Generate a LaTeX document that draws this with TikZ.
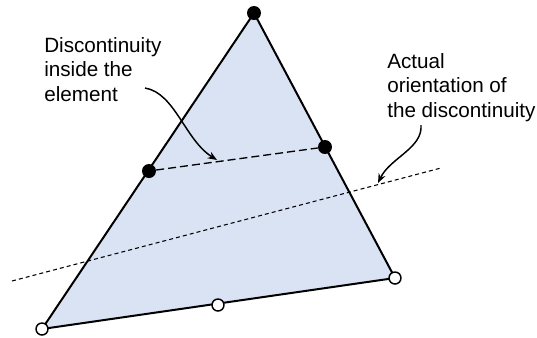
\documentclass[tikz,border=0pt]{standalone}
\usepackage{fontspec}
\setmainfont{Liberation Sans}
\usetikzlibrary{arrows.meta}

\definecolor{elemfill}{RGB}{218,227,243}

\begin{document}
\begin{tikzpicture}[
    x=0.75pt, y=-0.75pt,
    >={Stealth[length=7pt,width=5.5pt]},
    every node/.style={font=\fontsize{15.5}{18.4}\selectfont},
    fullnode/.style={circle, fill=black, inner sep=0pt, minimum size=10.5pt},
    opennode/.style={circle, draw=black, fill=white, line width=1.1pt,
        inner sep=0pt, minimum size=9pt},
    note/.style={align=left, anchor=north west, inner sep=0pt},
    pointer/.style={->, line width=1.1pt}
]

% ============================================================
% Rahmen
% ============================================================

\useasboundingbox (0,0) rectangle (537,337);

% ============================================================
% Element
% ============================================================

% Eckpunkte
\coordinate (A) at (42,329);
\coordinate (B) at (395,278);
\coordinate (C) at (254,13);

\fill[elemfill] (A) -- (B) -- (C) -- cycle;

% ============================================================
% Tatsaechliche Richtung der Diskontinuitaet
% ============================================================

\coordinate (dotL) at (12,281);
\coordinate (dotR) at (441,168);

\draw[line width=0.8pt, dash pattern=on 3pt off 2.3pt] (dotL) -- (dotR);

% Kanten
\draw[line width=1.5pt, line join=round] (A) -- (B) -- (C) -- cycle;

% ============================================================
% Knoten
% ============================================================

\node[opennode] (nA) at (A) {};
\node[opennode] (nB) at (B) {};
\node[opennode] (nAB) at (218,305) {};

\node[fullnode] (nC) at (C) {};
\node[fullnode] (nL) at (149,171) {};
\node[fullnode] (nR) at (325,147) {};

% Diskontinuitaet im Element
\draw[line width=1pt, dash pattern=on 6pt off 3pt] (nL) -- (nR);

% ============================================================
% Beschriftungen
% ============================================================

\node[note] (txtIn) at (44,37)
    {Discontinuity\\inside the\\element};

\node[note] (txtAct) at (387,53)
    {Actual\\orientation of\\the discontinuity};

\coordinate (inStart) at (145,88);
\coordinate (inEnd) at (217,160);
\coordinate (actStart) at (421,125);
\coordinate (actEnd) at (378,183);

\draw[pointer] (inStart) .. controls (175,93) and (185,140) .. (inEnd);
\draw[pointer] (actStart) .. controls (423,148) and (390,158) .. (actEnd);

\end{tikzpicture}
\end{document}
